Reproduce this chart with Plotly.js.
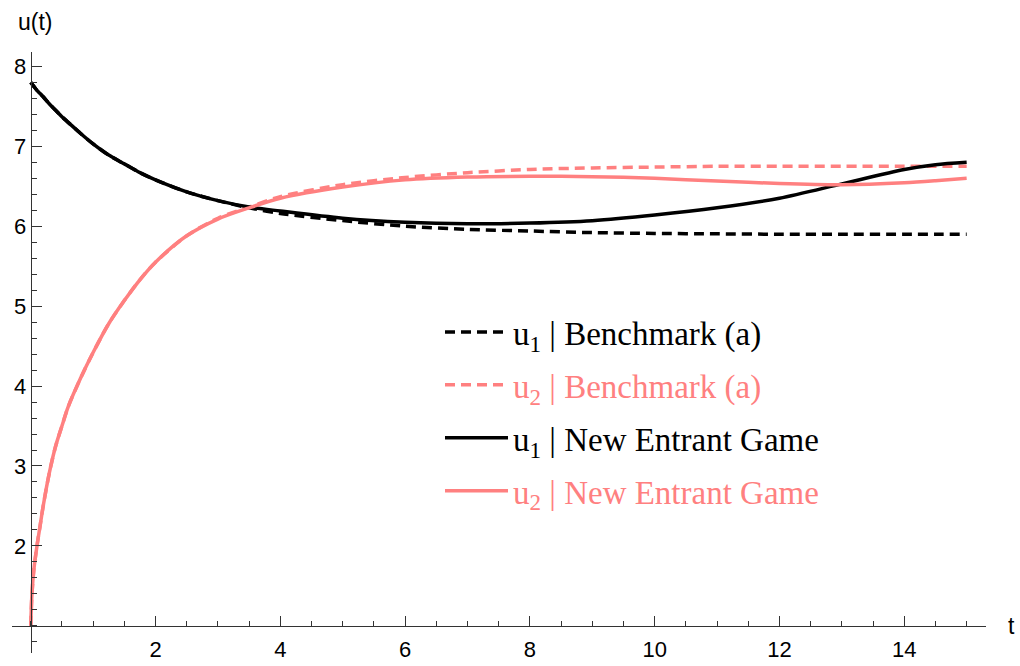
<!DOCTYPE html>
<html>
<head>
<meta charset="utf-8">
<script src="https://cdn.plot.ly/plotly-3.0.1.min.js"></script>
<style>html,body{margin:0;padding:0;background:#fff;}#chart{width:1020px;height:666px;}</style>
</head>
<body>
<div id="chart"></div>
<script>
// Time grid for benchmark / new-entrant solutions
const t = [0, 0.02, 0.05, 0.1, 0.15, 0.2, 0.3, 0.4, 0.5, 0.6, 0.8, 1.0, 1.25, 1.5, 1.75, 2.0, 2.5, 3.0, 3.5, 4.0, 5.0, 6.0, 7.0, 8.0, 9.0, 10.0, 11.0, 12.0, 13.0, 14.0, 14.5, 15.0];

// u1 | Benchmark (a)
const u1Bench = [7.80, 7.78, 7.75, 7.70, 7.66, 7.62, 7.53, 7.45, 7.37, 7.30, 7.16, 7.03, 6.89, 6.78, 6.67, 6.58, 6.43, 6.32, 6.23, 6.16, 6.07, 6.00, 5.96, 5.94, 5.92, 5.91, 5.905, 5.90, 5.90, 5.90, 5.90, 5.90];
// u2 | Benchmark (a)
const u2Bench = [1.00, 1.40, 1.70, 2.00, 2.25, 2.50, 2.92, 3.25, 3.50, 3.74, 4.10, 4.42, 4.78, 5.07, 5.33, 5.55, 5.88, 6.10, 6.24, 6.37, 6.52, 6.61, 6.67, 6.71, 6.73, 6.74, 6.75, 6.75, 6.75, 6.75, 6.75, 6.75];
// u1 | New Entrant Game
const u1New = [7.80, 7.78, 7.75, 7.70, 7.66, 7.62, 7.53, 7.45, 7.37, 7.30, 7.16, 7.03, 6.89, 6.78, 6.67, 6.58, 6.43, 6.32, 6.24, 6.19, 6.10, 6.05, 6.03, 6.04, 6.07, 6.14, 6.23, 6.35, 6.53, 6.71, 6.77, 6.80];
// u2 | New Entrant Game
const u2New = [1.00, 1.40, 1.70, 2.00, 2.25, 2.50, 2.92, 3.25, 3.50, 3.74, 4.10, 4.42, 4.78, 5.07, 5.33, 5.55, 5.88, 6.09, 6.23, 6.35, 6.49, 6.58, 6.615, 6.625, 6.62, 6.60, 6.565, 6.535, 6.52, 6.545, 6.57, 6.60];

const xTickVals = [2, 4, 6, 8, 10, 12, 14];
const yTickVals = [2, 3, 4, 5, 6, 7, 8];

const names = [
  'u<sub>1</sub> | Benchmark (a)',
  '<span style="color:#ff8080">u<sub>2</sub> | Benchmark (a)</span>',
  'u<sub>1</sub> | New Entrant Game',
  '<span style="color:#ff8080">u<sub>2</sub> | New Entrant Game</span>'
];

const BLACK = '#000000';
const PINK = '#ff8080';

const xRange = [-0.3, 15.31];
const yRange = [0.66, 8.18];

const traces = [
  {x: t, y: u1Bench, name: names[0], legendgroup: 'a', mode: 'lines', line: {color: BLACK, width: 3.5, dash: '10px,6px', shape: 'spline', smoothing: 0.8}},
  {x: t, y: u2Bench, name: names[1], legendgroup: 'b', mode: 'lines', line: {color: PINK, width: 3.5, dash: '10px,6px', shape: 'spline', smoothing: 0.8}},
  {x: t, y: u1New, name: names[2], legendgroup: 'c', mode: 'lines', line: {color: BLACK, width: 3.5, shape: 'spline', smoothing: 0.8}},
  {x: t, y: u2New, name: names[3], legendgroup: 'd', mode: 'lines', line: {color: PINK, width: 3.5, shape: 'spline', smoothing: 0.8}}
];

const axisColor = '#333333';
const tickFont = {family: 'Liberation Sans, Arial, sans-serif', size: 22, color: '#000'};

const layout = {
  width: 1020,
  height: 666,
  margin: {l: 12, r: 34, t: 52, b: 13},
  paper_bgcolor: '#fff',
  plot_bgcolor: '#fff',
  showlegend: true,
  legend: {
    x: (440 - 12) / 974, y: (626 - 277) / 601,
    xanchor: 'left', yanchor: 'top',
    yref: 'paper',
    itemwidth: 63,
    traceorder: 'grouped',
    tracegroupgap: 7,
    bgcolor: 'rgba(0,0,0,0)',
    font: {family: 'Liberation Serif, Times New Roman, serif', size: 33, color: '#000'}
  },
  xaxis: {
    range: xRange,
    anchor: 'free',
    position: (1 - yRange[0]) / (yRange[1] - yRange[0]),
    showgrid: false, zeroline: false,
    showline: true, linecolor: axisColor, linewidth: 1,
    ticks: 'inside', ticklen: 10, tickwidth: 1, tickcolor: axisColor,
    tickmode: 'array', tickvals: xTickVals, ticktext: xTickVals.map(String),
    tickfont: tickFont, ticklabelstandoff: 4,
    minor: {ticks: 'inside', ticklen: 5, tickwidth: 1, tickcolor: axisColor, dtick: 0.5, tick0: 0, showgrid: false},
    fixedrange: true
  },
  yaxis: {
    range: yRange,
    anchor: 'free',
    position: (0 - xRange[0]) / (xRange[1] - xRange[0]),
    showgrid: false, zeroline: false,
    showline: true, linecolor: axisColor, linewidth: 1,
    ticks: 'inside', ticklen: 10, tickwidth: 1, tickcolor: axisColor,
    tickmode: 'array', tickvals: yTickVals, ticktext: yTickVals.map(String),
    tickfont: tickFont,
    minor: {ticks: 'inside', ticklen: 5, tickwidth: 1, tickcolor: axisColor, dtick: 0.2, tick0: 0, showgrid: false},
    fixedrange: true
  },
  annotations: [
    {text: 'u(t)', xref: 'paper', yref: 'paper', x: (16 - 12) / 974, y: 1 + (52 - 22) / 601, xanchor: 'left', yanchor: 'middle', showarrow: false, font: {family: 'Liberation Sans, Arial, sans-serif', size: 23, color: '#000'}},
    {text: 't', xref: 'paper', yref: 'paper', x: (1006 - 12) / 974, y: (653 - 626) / 601, xanchor: 'left', yanchor: 'middle', showarrow: false, font: {family: 'Liberation Sans, Arial, sans-serif', size: 23, color: '#000'}}
  ]
};

Plotly.newPlot('chart', traces, layout, {displayModeBar: false, staticPlot: true});
</script>
</body>
</html>
